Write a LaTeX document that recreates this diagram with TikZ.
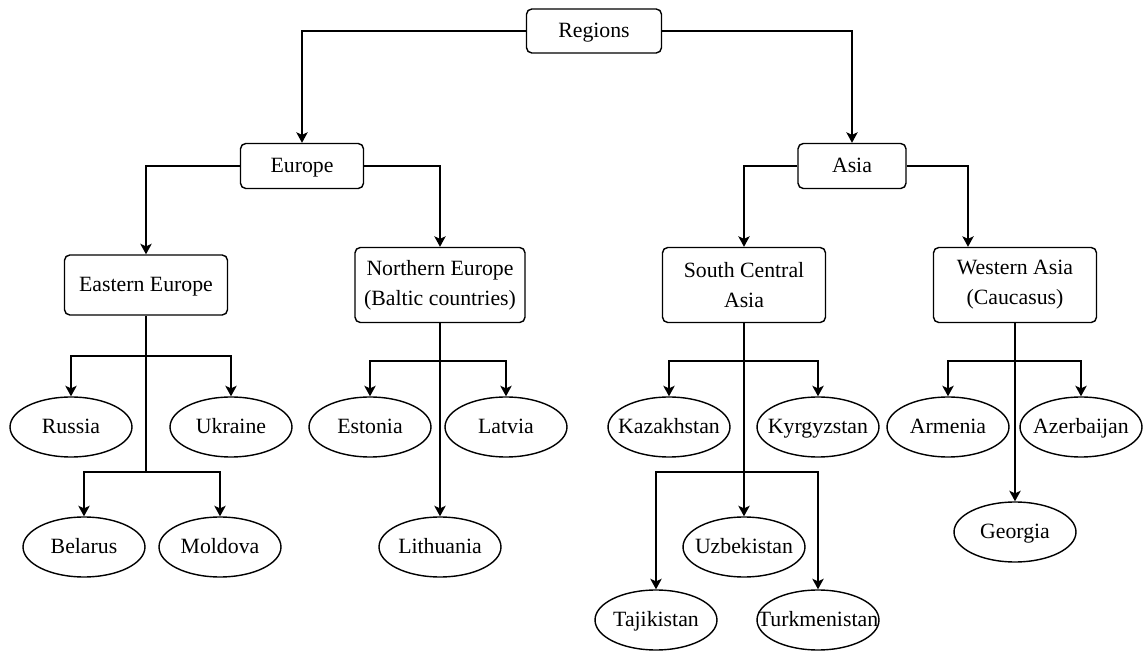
\documentclass[tikz,border=0pt]{standalone}
\usepackage{fontspec}
\setmainfont{Liberation Serif}
\usetikzlibrary{shapes.geometric, arrows.meta}

\tikzset{
  region/.style={draw, rounded corners=3pt, inner sep=2pt, align=center, font=\fontsize{12.4}{17}\selectfont},
  oneline/.style={text height=8.5pt, text depth=1.5pt},
  country/.style={draw, ellipse, minimum width=2.44cm, minimum height=1.2cm, inner sep=0pt, oneline, font=\fontsize{12.4}{17}\selectfont},
}
\newcommand{\cname}[1]{\makebox[0pt]{#1}}

\begin{document}
\begin{tikzpicture}[x=0.02cm, y=-0.02cm, line width=0.8pt, >={Stealth[length=6pt,width=6.5pt,inset=1.5pt]}]
	\useasboundingbox (0,0) rectangle (1143,651);
	\draw (594,31) node[region, oneline, minimum width=2.7cm, minimum height=0.88cm] (reg) {Regions}
	(302,166) node[region, oneline, minimum width=2.46cm, minimum height=0.9cm] (eur) {Europe}
	(852,166) node[region, oneline, minimum width=2.16cm, minimum height=0.9cm] (asia) {Asia}
	(146,285) node[region, oneline, minimum width=3.26cm, minimum height=1.2cm] (ee) {Eastern Europe}
	(440,285) node[region, minimum width=3.4cm, minimum height=1.5cm] (ne) {Northern Europe\\(Baltic countries)}
	(744,285) node[region, minimum width=3.26cm, minimum height=1.5cm] (sca) {South Central\\Asia}
	(1015,285) node[region, minimum width=3.26cm, minimum height=1.5cm] (wa) {Western Asia\\(Caucasus)};
	
	\draw (71,427) node[country] (rus) {\cname{Russia}}
	(231,427) node[country] (ukr) {\cname{Ukraine}}
	(84,547) node[country] (bel) {\cname{Belarus}}
	(220,547) node[country] (mol) {\cname{Moldova}}
	(370,427) node[country] (est) {\cname{Estonia}}
	(506,427) node[country] (lat) {\cname{Latvia}}
	(440,547) node[country] (lit) {\cname{Lithuania}}
	(669,427) node[country] (kaz) {\cname{Kazakhstan}}
	(818,427) node[country] (kyr) {\cname{Kyrgyzstan}}
	(744,547) node[country] (uzb) {\cname{Uzbekistan}}
	(656,620) node[country] (taj) {\cname{Tajikistan}}
	(818,620) node[country] (tur) {\cname{Turkmenistan}}
	(948,427) node[country] (arm) {\cname{Armenia}}
	(1081,427) node[country] (aze) {\cname{Azerbaijan}}
	(1015,532) node[country] (geo) {\cname{Georgia}};
	
	\coordinate (ee1) at (146,356);
	\coordinate (ee2) at (146,472);
	\coordinate (ne1) at (440,361);
	\coordinate (sca1) at (744,361);
	\coordinate (sca2) at (744,472);
	\coordinate (wa1) at (1015,361);
	
	\draw[->] (reg.west) -| (eur.north);
	\draw[->] (reg.east) -| (asia.north);
	\draw[->] (eur.west) -| (ee.north);
	\draw[->] (eur.east) -| (ne.north);
	\draw[->] (asia.west) -| (sca.north);
	\draw[->] (asia.east) -| ([xshift=-0.94cm]wa.north);
	
	\draw (ee.south) -- (ee2);
	\draw[->] (ee1) -| (rus.north);
	\draw[->] (ee1) -| (ukr.north);
	\draw[->] (ee2) -| (bel.north);
	\draw[->] (ee2) -| (mol.north);
	
	\draw[->] (ne.south) -- (lit.north);
	\draw[->] (ne1) -| (est.north);
	\draw[->] (ne1) -| (lat.north);
	
	\draw[->] (sca.south) -- (uzb.north);
	\draw[->] (sca1) -| (kaz.north);
	\draw[->] (sca1) -| (kyr.north);
	\draw[->] (sca2) -| (taj.north);
	\draw[->] (sca2) -| (tur.north);
	
	\draw[->] (wa.south) -- (geo.north);
	\draw[->] (wa1) -| (arm.north);
	\draw[->] (wa1) -| (aze.north);
\end{tikzpicture}
\end{document}
